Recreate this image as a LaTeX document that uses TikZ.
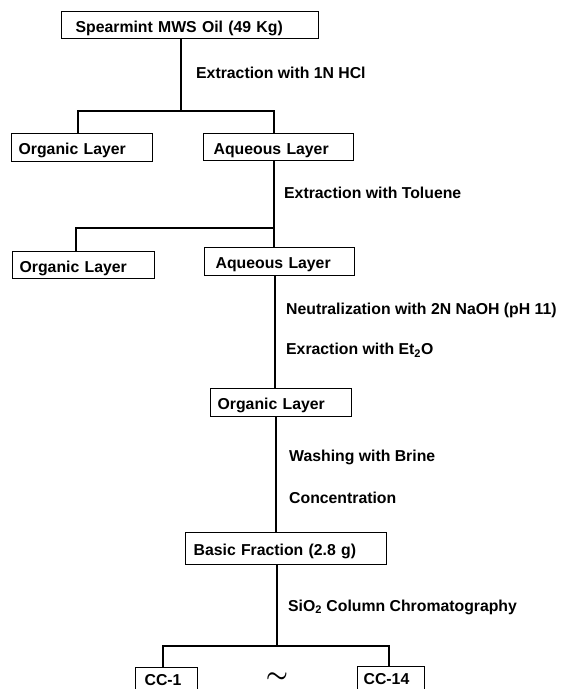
\documentclass[tikz,border=0pt]{standalone}
\usepackage{fontspec}
\setmainfont{Liberation Sans}
\tikzset{
  stage/.style={draw, line width=1.3pt, anchor=north west, inner ysep=0pt, align=left,
    text height=14pt, text depth=0pt, font=\bfseries\fontsize{15.8}{18}\selectfont},
  note/.style={anchor=west, inner sep=0pt, font=\bfseries\fontsize{15.8}{18}\selectfont},
  link/.style={line width=1.2pt},
}
\begin{document}
\begin{tikzpicture}[x=1pt,y=-1pt]
        \useasboundingbox (0,0) rectangle (562,689);
        \clip (0,0) rectangle (562,689);
        % boxes
        \node[stage, inner xsep=14pt, text width=229pt, minimum height=27pt] (oil) at (61,11) {Spearmint MWS Oil (49 Kg)};
        \node[stage, inner xsep=7pt, text width=127pt, minimum height=28pt] (org1) at (11,133) {Organic Layer};
        \node[stage, inner xsep=10pt, text width=130pt, minimum height=27pt] (aq1) at (203,133) {Aqueous Layer};
        \node[stage, inner xsep=7pt, text width=128pt, minimum height=27pt] (org2) at (12,251) {Organic Layer};
        \node[stage, inner xsep=11pt, text width=128pt, minimum height=28pt] (aq2) at (204,247) {Aqueous Layer};
        \node[stage, inner xsep=7pt, text width=127pt, minimum height=28pt] (org3) at (210,388) {Organic Layer};
        \node[stage, inner xsep=8pt, text width=185pt, minimum height=32pt] (basic) at (185,532) {Basic Fraction (2.8 g)};
        \node[stage, text height=7pt, inner xsep=9pt, text width=44pt, minimum height=28pt] (cc1) at (135,667) {CC-1};
        \node[stage, text height=7pt, inner xsep=6pt, text width=55pt, minimum height=28pt] (cc14) at (357,666) {CC-14};
        \node[font=\boldmath\fontsize{34}{34}\selectfont, inner sep=0pt] (tilde) at (277,678) {$\sim$};
        % steps
        \node[note] (hcl) at (196,73) {Extraction with 1N HCl};
        \node[note] (tol) at (284,193) {Extraction with Toluene};
        \node[note] (naoh) at (286,310) {Neutralization with 2N NaOH (pH 11)};
        \node[note] (eth) at (286,350) {Exraction with Et\textsubscript{2}O};
        \node[note] (brine) at (289,457) {Washing with Brine};
        \node[note] (conc) at (289,498) {Concentration};
        \node[note] (sio) at (288,607) {SiO\textsubscript{2} Column Chromatography};
        % lines
        \coordinate (j1) at (181,111);
        \coordinate (l1) at (78,111);
        \coordinate (r1) at (274,111);
        \draw[link] (oil.south -| j1) -- (j1);
        \draw[link] (org1.north -| l1) -- (l1) -- (r1) -- (aq1.north -| r1);
        \coordinate (j2) at (274,228);
        \coordinate (l2) at (76,228);
        \draw[link] (aq1.south -| j2) -- (aq2.north -| j2);
        \draw[link] (j2) -- (l2) -- (org2.north -| l2);
        \coordinate (j3) at (275,300);
        \draw[link] (aq2.south -| j3) -- (org3.north -| j3);
        \coordinate (j4) at (276,480);
        \draw[link] (org3.south -| j4) -- (basic.north -| j4);
        \coordinate (j5) at (277,646);
        \coordinate (l5) at (163,646);
        \coordinate (r5) at (389,646);
        \draw[link] (basic.south -| j5) -- (j5);
        \draw[link] (cc1.north -| l5) -- (l5) -- (r5) -- (cc14.north -| r5);
\end{tikzpicture}
\end{document}
